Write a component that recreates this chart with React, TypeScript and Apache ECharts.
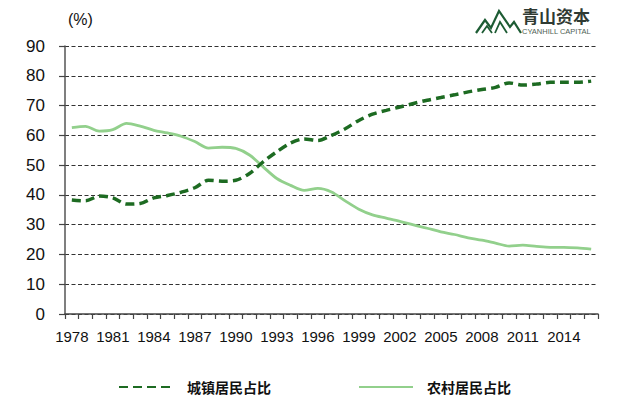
import React, { useEffect, useRef } from "react";
import * as echarts from "echarts";

const years: string[] = [];
for (let y = 1978; y <= 2016; y++) years.push(String(y));

const urbanShare = [
  38.3, 38.0, 39.6, 39.0, 36.9, 37.1, 39.0, 39.8, 40.9, 42.4,
  44.9, 44.6, 44.9, 47.2, 51.1, 54.5, 57.4, 58.8, 58.3, 60.0,
  62.2, 65.0, 67.1, 68.4, 69.5, 70.7, 71.8, 72.7, 73.6, 74.6,
  75.4, 76.1, 77.6, 76.9, 77.2, 77.8, 77.8, 77.8, 78.2,
];

const ruralShare = [
  62.6, 63.0, 61.4, 61.9, 64.0, 63.1, 61.7, 60.8, 59.7, 57.9,
  55.7, 56.0, 55.6, 53.4, 49.4, 45.5, 43.2, 41.5, 42.2, 41.0,
  38.0, 35.2, 33.3, 32.2, 31.1, 29.9, 28.8, 27.6, 26.7, 25.6,
  24.8, 23.8, 22.8, 23.1, 22.7, 22.4, 22.4, 22.2, 21.8,
];

const seriesNames = ["城镇居民占比", "农村居民占比"];
const yTicks = { min: 0, max: 90, interval: 10 };

const latin = "'Liberation Sans', Arial, sans-serif";
const cjk = "'Noto Sans CJK SC', sans-serif";

export default function App() {
  const ref = useRef<HTMLDivElement>(null);
  useEffect(() => {
    if (!ref.current) return;
    const chart = echarts.init(ref.current, undefined, { renderer: "svg" });
    chart.setOption({
      animation: false,
      backgroundColor: "#ffffff",
      grid: { left: 65, right: 25, top: 46, bottom: 90, containLabel: false },
      legend: {
        left: 113,
        top: 375,
        itemWidth: 54,
        itemHeight: 14,
        itemGap: 87,
        data: seriesNames,
        itemStyle: { opacity: 0 },
        textStyle: {
          fontFamily: cjk,
          fontSize: 14,
          fontWeight: "bold",
          color: "#111",
          padding: [0, 0, 0, 9],
        },
      },
      xAxis: {
        type: "category",
        data: years,
        boundaryGap: true,
        axisLine: { show: true, lineStyle: { color: "#444", width: 1.5 } },
        axisTick: { show: true, interval: 0, length: 5, lineStyle: { color: "#444", width: 1.2 } },
        axisLabel: {
          interval: 2,
          margin: 15,
          fontFamily: latin,
          fontSize: 15,
          color: "#111",
          hideOverlap: false,
        },
        splitLine: { show: false },
      },
      yAxis: {
        type: "value",
        min: yTicks.min,
        max: yTicks.max,
        interval: yTicks.interval,
        axisLine: { show: true, lineStyle: { color: "#555", width: 1.5 } },
        axisTick: { show: true, length: 6, lineStyle: { color: "#444", width: 1.2 } },
        axisLabel: {
          margin: 20,
          fontFamily: latin,
          fontSize: 17,
          color: "#111",
        },
        splitLine: {
          show: true,
          lineStyle: { color: "#333", type: [4, 2.5], width: 1.2 },
        },
      },
      series: [
        {
          name: seriesNames[0],
          type: "line",
          data: urbanShare,
          smooth: 0.3,
          symbol: "none",
          lineStyle: { color: "#1d6b22", width: 3.5, type: [9, 5] },
          itemStyle: { color: "#1d6b22" },
          z: 3,
        },
        {
          name: seriesNames[1],
          type: "line",
          data: ruralShare,
          smooth: 0.3,
          symbol: "none",
          lineStyle: { color: "#92d08c", width: 2.8 },
          itemStyle: { color: "#92d08c" },
          z: 2,
        },
      ],
      graphic: [
        {
          type: "text",
          left: 68,
          top: 11,
          style: { text: "(%)", fontFamily: latin, fontSize: 16, fill: "#111" },
        },
        {
          type: "polyline",
          shape: { points: [[476, 33], [485, 20], [491, 28], [499, 11], [510, 27], [514, 22], [521, 33]] },
          style: { stroke: "#1d5c34", lineWidth: 2.2, fill: "none" },
        },
        {
          type: "polyline",
          shape: { points: [[482, 33], [487, 26], [492, 33]] },
          style: { stroke: "#1d5c34", lineWidth: 1.8, fill: "none" },
        },
        {
          type: "polyline",
          shape: { points: [[495, 33], [500, 22], [507, 33]] },
          style: { stroke: "#1d5c34", lineWidth: 1.8, fill: "none" },
        },
        {
          type: "text",
          left: 522,
          top: 7,
          style: { text: "青山资本", fontFamily: cjk, fontSize: 17, fontWeight: "bold", fill: "#2f3a33" },
        },
        {
          type: "text",
          left: 522,
          top: 27,
          style: { text: "CYANHILL CAPITAL", fontFamily: latin, fontSize: 7.5, fill: "#4f5f55" },
        },
      ],
    });
    return () => chart.dispose();
  }, []);
  return (
    <div
      ref={ref}
      style={{ position: "fixed", left: 0, top: 0, width: 623, height: 404, background: "#fff" }}
    />
  );
}
